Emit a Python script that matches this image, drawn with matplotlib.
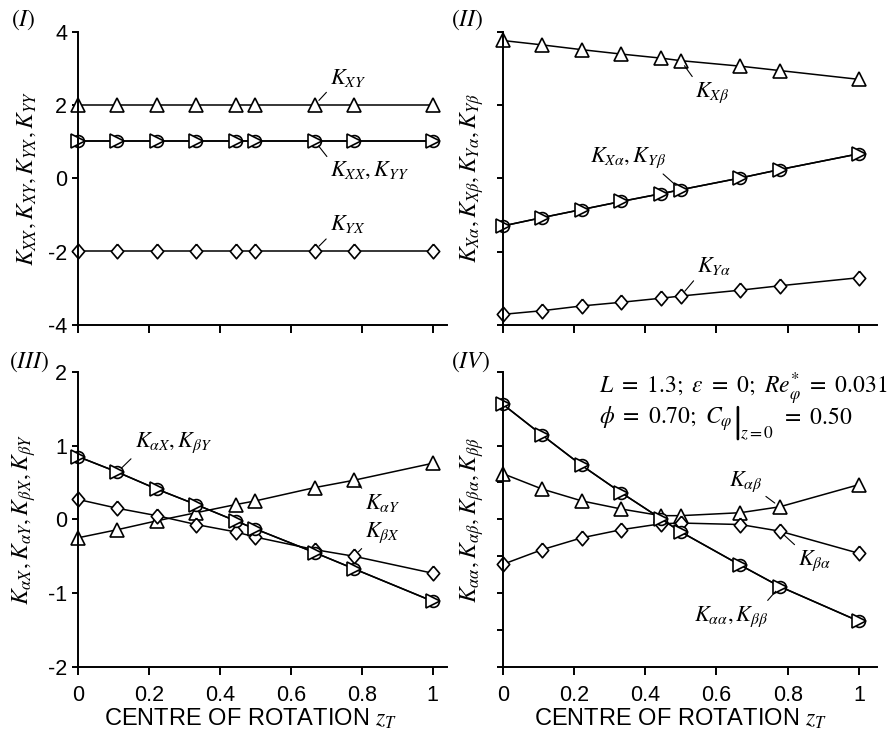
"""Stiffness coefficients versus centre of rotation, four-panel figure."""

import matplotlib

matplotlib.use("Agg")
import matplotlib.pyplot as plt

plt.rcParams["font.family"] = ["Liberation Sans", "DejaVu Sans"]
plt.rcParams["mathtext.fontset"] = "stix"
plt.rcParams["axes.unicode_minus"] = False

# centre of rotation z_T
z_t = [0.0, 0.111, 0.222, 0.333, 0.444, 0.5, 0.667, 0.778, 1.0]

# panel I
k_xy = [2.0, 2.0, 2.0, 2.0, 2.0, 2.0, 2.0, 2.0, 2.0]
k_xx = [1.02, 1.02, 1.02, 1.02, 1.02, 1.02, 1.02, 1.02, 1.02]
k_yy = [1.02, 1.02, 1.02, 1.02, 1.02, 1.02, 1.02, 1.02, 1.02]
k_yx = [-1.97, -1.97, -1.97, -1.97, -1.97, -1.97, -1.97, -1.97, -1.97]

# panel II
k_xbeta = [3.76, 3.64, 3.51, 3.39, 3.28, 3.21, 3.06, 2.94, 2.70]
k_xalpha = [-1.30, -1.07, -0.85, -0.63, -0.42, -0.31, 0.01, 0.24, 0.67]
k_ybeta = [-1.30, -1.07, -0.85, -0.63, -0.42, -0.31, 0.01, 0.24, 0.67]
k_yalpha = [-3.71, -3.61, -3.48, -3.38, -3.27, -3.21, -3.05, -2.93, -2.71]

# panel III
k_alphax = [0.85, 0.64, 0.41, 0.20, -0.02, -0.13, -0.45, -0.67, -1.11]
k_betay = [0.85, 0.64, 0.41, 0.20, -0.02, -0.13, -0.45, -0.67, -1.11]
k_alphay = [-0.25, -0.14, -0.02, 0.09, 0.20, 0.25, 0.43, 0.53, 0.76]
k_betax = [0.27, 0.15, 0.05, -0.07, -0.17, -0.24, -0.41, -0.50, -0.73]

# panel IV
k_aa = [1.56, 1.14, 0.73, 0.36, 0.01, -0.17, -0.62, -0.91, -1.38]
k_bb = [1.56, 1.14, 0.73, 0.36, 0.01, -0.17, -0.62, -0.91, -1.38]
k_ab = [0.62, 0.41, 0.25, 0.14, 0.05, 0.05, 0.09, 0.17, 0.47]
k_ba = [-0.61, -0.41, -0.25, -0.14, -0.06, -0.05, -0.07, -0.16, -0.46]

x_ticks = [0, 0.2, 0.4, 0.6, 0.8, 1]
x_tick_labels = ["0", "0.2", "0.4", "0.6", "0.8", "1"]

DIAMOND = [(0, 1), (0.85, 0), (0, -1), (-0.85, 0), (0, 1)]
LINE_KW = dict(color="black", lw=1.1, markerfacecolor="white",
               markeredgecolor="black", markeredgewidth=1.2, clip_on=False)


def series(ax, y, marker, size):
    ax.plot(z_t, y, marker=marker, markersize=size, **LINE_KW)


def triangles(ax, y):
    series(ax, y, "^", 10.5)


def diamonds(ax, y):
    series(ax, y, DIAMOND, 10.5)


def pair(ax, y1, y2):
    """Two coincident coefficients: circle under a right-pointing triangle."""
    series(ax, y1, "o", 8.5)
    series(ax, y2, ">", 9.5)


def leader(ax, text, xy, xytext, ha, va, relpos):
    ax.annotate(text, xy=xy, xytext=xytext, ha=ha, va=va, fontsize=16,
                arrowprops=dict(arrowstyle="-", lw=0.8, color="black",
                                shrinkA=1, shrinkB=4.5, relpos=relpos))


def style_axis(ax, xmax, ylim, yticks, show_ylabels, show_xlabels, ylabel, label_x,
               xlabel_x=0.5):
    for side in ("top", "right"):
        ax.spines[side].set_visible(False)
    for side in ("left", "bottom"):
        ax.spines[side].set_linewidth(1.4)
    ax.set_xlim(0, xmax)
    ax.set_ylim(*ylim)
    ax.set_xticks(x_ticks)
    ax.set_yticks(yticks)
    ax.tick_params(axis="y", direction="out", length=4.3, width=1.4, pad=3.5, labelsize=15.5)
    ax.tick_params(axis="x", direction="out", length=5.8, width=1.4, pad=7, labelsize=15.5)
    if show_xlabels:
        ax.set_xticklabels(x_tick_labels)
        ax.set_xlabel(r"CENTRE OF ROTATION $z_T$", fontsize=17, labelpad=1)
        ax.xaxis.label.set_x(xlabel_x)
    else:
        ax.set_xticklabels([])
    if show_ylabels:
        ax.set_yticklabels([f"{t:g}" for t in yticks])
    else:
        ax.set_yticklabels([])
    ax.set_ylabel(ylabel, fontsize=17)
    ax.yaxis.set_label_coords(label_x, 0.5)


def conditions(ax):
    """Operating conditions, with an evaluation bar after C_phi."""
    ax.text(0.27, 1.71, r"$L\ =\ 1.3;\ \varepsilon\ =\ 0;\ Re_{\varphi}^{*}\ =\ 0.031$",
            fontsize=17, ha="left", va="baseline")
    base = 1.29
    head = ax.text(0.27, base, r"$\phi\ =\ 0.70;\ C_{\varphi}$",
                   fontsize=17, ha="left", va="baseline")
    # evaluation bar: 23 pt tall, starting just above the cap height
    ax.annotate("", xy=(1.04, base + 0.23), xycoords=(head, "data"),
                xytext=(0, -23), textcoords="offset points",
                arrowprops=dict(arrowstyle="-", lw=1.9, color="black",
                                shrinkA=0, shrinkB=0))
    sub = ax.annotate(r"$z=0$", xy=(1.04, base), xycoords=(head, "data"),
                      xytext=(1.5, -10.5), textcoords="offset points",
                      ha="left", va="baseline", fontsize=12.5)
    ax.annotate(r"$=\ 0.50$", xy=(1, base), xycoords=(sub, "data"), xytext=(5, 0),
                textcoords="offset points", ha="left", va="baseline", fontsize=17)


def main():
    fig = plt.figure(figsize=(8.94, 7.36), dpi=100)
    w, h = 894, 736
    top_b, top_h = 1 - 325 / h, 293.3 / h
    bot_b, bot_h = 1 - 667 / h, 295.3 / h
    ax1 = fig.add_axes([78 / w, top_b, 369 / w, top_h])
    ax2 = fig.add_axes([502.7 / w, top_b, 374 / w, top_h])
    ax3 = fig.add_axes([78 / w, bot_b, 369 / w, bot_h])
    ax4 = fig.add_axes([502.7 / w, bot_b, 374 / w, bot_h])

    # (I)
    triangles(ax1, k_xy)
    pair(ax1, k_xx, k_yy)
    diamonds(ax1, k_yx)
    style_axis(ax1, 1.04, (-4, 4), [-4, -2, 0, 2, 4], True, False,
               r"$K_{XX}, K_{XY}, K_{YX}, K_{YY}$", -0.108)
    leader(ax1, r"$K_{XY}$", (z_t[6], k_xy[6]), (0.71, 2.45), "left", "bottom", (0, 0))
    leader(ax1, r"$K_{XX}, K_{YY}$", (z_t[6], k_xx[6]), (0.71, 0.49), "left", "top", (0, 1))
    leader(ax1, r"$K_{YX}$", (z_t[6], k_yx[6]), (0.71, -1.55), "left", "bottom", (0, 0))

    # (II)
    triangles(ax2, k_xbeta)
    pair(ax2, k_xalpha, k_ybeta)
    diamonds(ax2, k_yalpha)
    style_axis(ax2, 1.05, (-4, 4), [-4, -2, 0, 2, 4], False, False,
               r"$K_{X\alpha}, K_{X\beta}, K_{Y\alpha}, K_{Y\beta}$", -0.045)
    leader(ax2, r"$K_{X\beta}$", (z_t[5], k_xbeta[5]), (0.54, 2.67), "left", "top", (0, 1))
    leader(ax2, r"$K_{X\alpha}, K_{Y\beta}$", (z_t[5], k_xalpha[5]), (0.46, 0.22),
           "right", "bottom", (0.9, 0))
    leader(ax2, r"$K_{Y\alpha}$", (z_t[5], k_yalpha[5]), (0.545, -2.69), "left", "bottom", (0, 0))

    # (III)
    triangles(ax3, k_alphay)
    diamonds(ax3, k_betax)
    pair(ax3, k_alphax, k_betay)
    style_axis(ax3, 1.04, (-2, 2), [-2, -1, 0, 1, 2], True, True,
               r"$K_{\alpha X}, K_{\alpha Y}, K_{\beta X}, K_{\beta Y}$", -0.108, 0.469)
    leader(ax3, r"$K_{\alpha X}, K_{\beta Y}$", (z_t[1], k_alphax[1]), (0.16, 0.87),
           "left", "bottom", (0, 0))
    leader(ax3, r"$K_{\alpha Y}$", (z_t[7], k_alphay[7]), (0.81, 0.37), "left", "top", (0, 1))
    leader(ax3, r"$K_{\beta X}$", (z_t[7], k_betax[7]), (0.81, -0.345), "left", "bottom", (0, 0))

    # (IV)
    triangles(ax4, k_ab)
    diamonds(ax4, k_ba)
    pair(ax4, k_aa, k_bb)
    style_axis(ax4, 1.05, (-2, 2), [-2, -1.5, -1, -0.5, 0, 0.5, 1, 1.5, 2], False, True,
               r"$K_{\alpha\alpha}, K_{\alpha\beta}, K_{\beta\alpha}, K_{\beta\beta}$",
               -0.045, 0.476)
    leader(ax4, r"$K_{\alpha\beta}$", (z_t[7], k_ab[7]), (0.728, 0.35), "right", "bottom", (1, 0))
    leader(ax4, r"$K_{\beta\alpha}$", (z_t[7], k_ba[7]), (0.83, -0.39), "left", "top", (0, 1))
    leader(ax4, r"$K_{\alpha\alpha}, K_{\beta\beta}$", (z_t[7], k_aa[7]), (0.745, -1.15),
           "right", "top", (0.95, 1))
    conditions(ax4)

    for label, x, y in [("$(I)$", 11, 8), ("$(II)$", 451, 8),
                        ("$(III)$", 9, 350), ("$(IV)$", 451, 350)]:
        fig.text(x / w, 1 - y / h, label, fontsize=17, ha="left", va="top")

    fig.savefig("out.png", dpi=100)
    plt.close(fig)


if __name__ == "__main__":
    main()
